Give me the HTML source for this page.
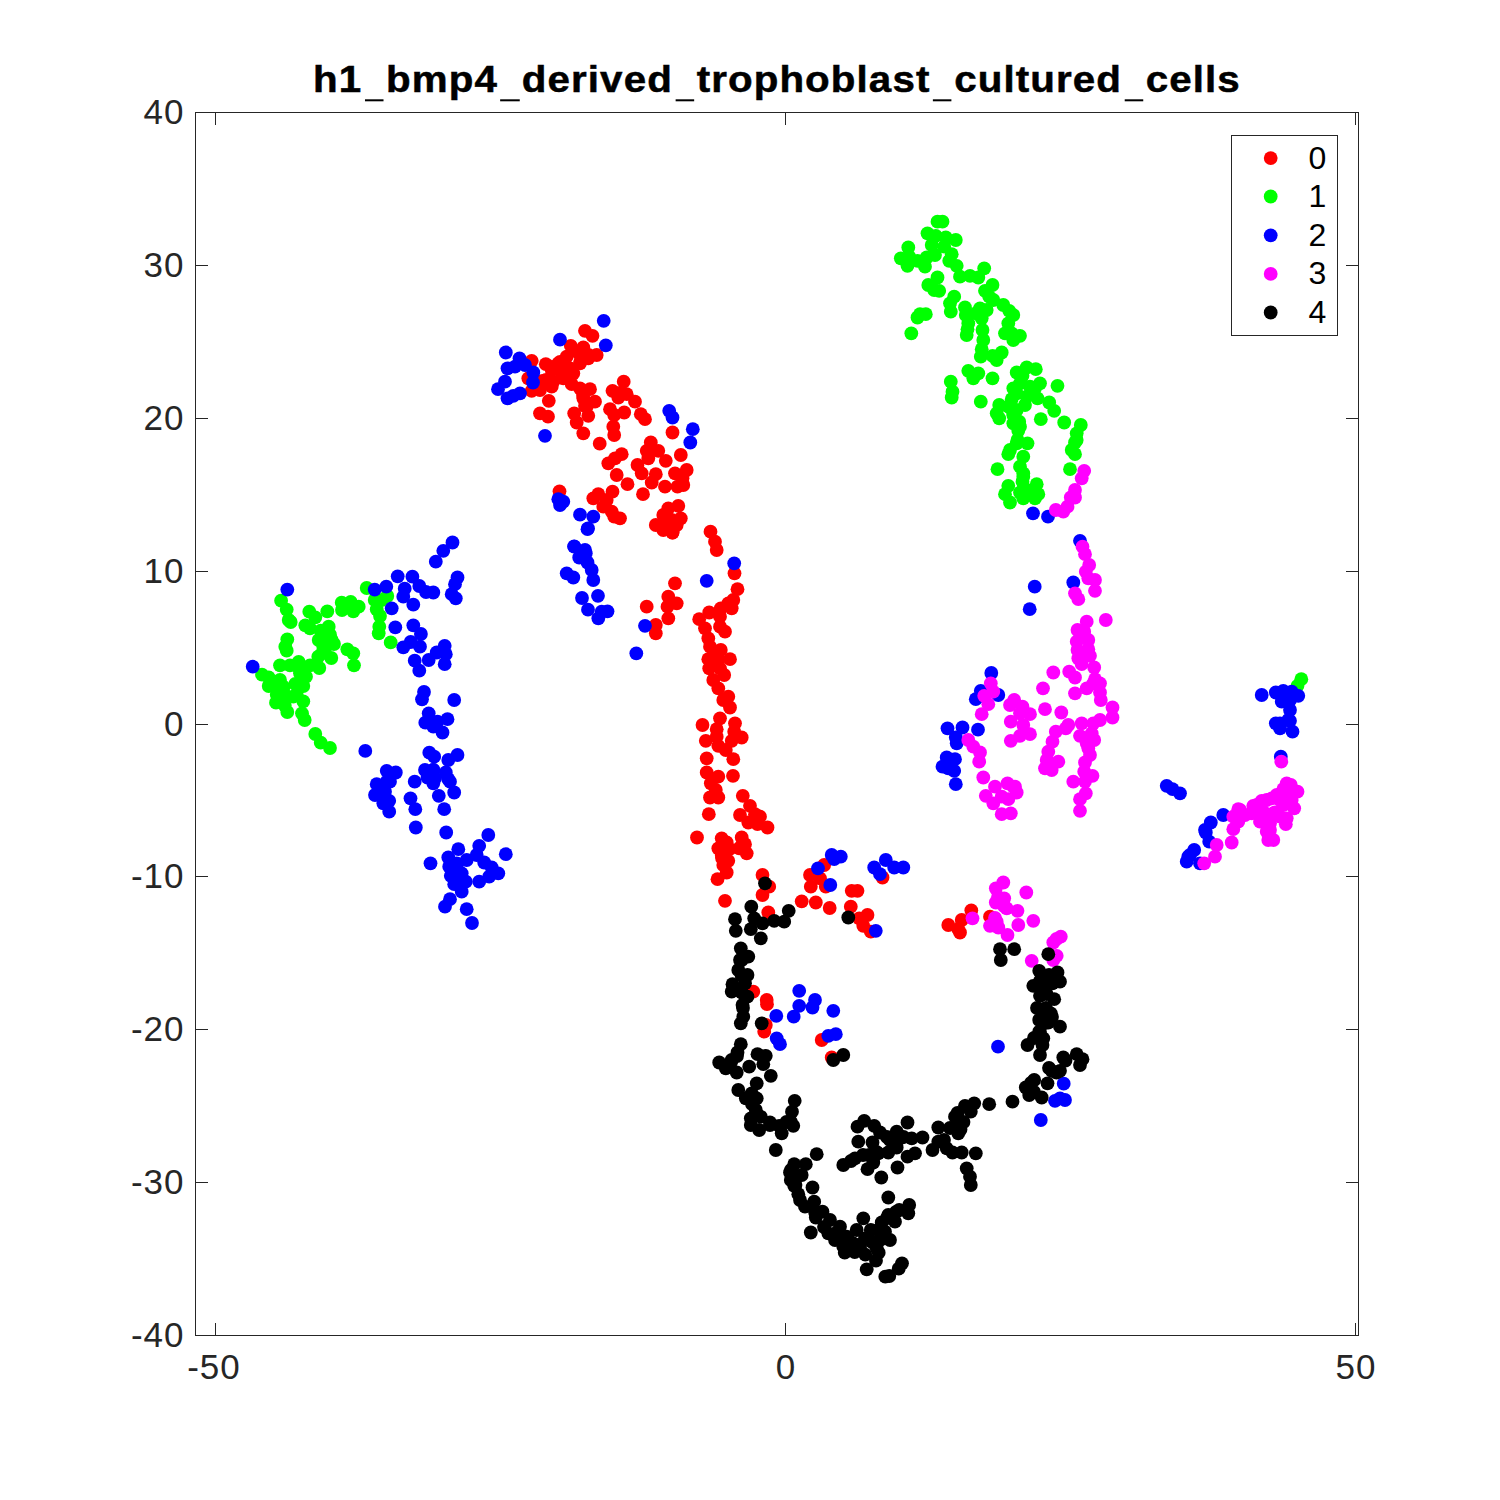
<!DOCTYPE html>
<html><head><meta charset="utf-8"><title>plot</title>
<style>
html,body{margin:0;padding:0;background:#fff;}
body{width:1500px;height:1500px;overflow:hidden;position:relative;font-family:"Liberation Sans",sans-serif;}
svg{position:absolute;left:0;top:0;}
.t{position:absolute;color:#262626;font-size:35px;line-height:36px;white-space:nowrap;letter-spacing:1px;}
.yl{text-align:right;width:100px;}
.xl{text-align:center;width:120px;}
.lg{position:absolute;color:#000;font-size:32px;line-height:32px;white-space:nowrap;}
#title{position:absolute;left:277px;width:1000px;top:58px;text-align:center;font-weight:bold;font-size:37px;line-height:44px;color:#000;white-space:nowrap;letter-spacing:1px;-webkit-text-stroke:0.5px #000;transform:scaleX(1.09);transform-origin:50% 50%;}
.u{display:inline-block;width:17.6px;height:0;border-bottom:2.7px solid #000;margin:0 2.1px;transform:translateY(9.3px);}
</style></head><body>

<svg width="1500" height="1500" viewBox="0 0 1500 1500">
<g fill="#ff0000">
<circle cx="646.7" cy="606.7" r="6.90"/>
<circle cx="655.8" cy="625.0" r="6.90"/>
<circle cx="655.8" cy="633.3" r="6.90"/>
<circle cx="668.3" cy="596.7" r="6.90"/>
<circle cx="675.0" cy="583.3" r="6.90"/>
<circle cx="667.5" cy="606.7" r="6.90"/>
<circle cx="676.7" cy="603.3" r="6.90"/>
<circle cx="668.3" cy="618.3" r="6.90"/>
<circle cx="672.5" cy="532.5" r="6.90"/>
<circle cx="663.3" cy="530.0" r="6.90"/>
<circle cx="531.7" cy="360.8" r="6.90"/>
<circle cx="585.0" cy="330.8" r="6.90"/>
<circle cx="592.5" cy="335.8" r="6.90"/>
<circle cx="570.8" cy="345.8" r="6.90"/>
<circle cx="583.3" cy="347.5" r="6.90"/>
<circle cx="576.7" cy="351.7" r="6.90"/>
<circle cx="596.7" cy="355.0" r="6.90"/>
<circle cx="588.3" cy="358.3" r="6.90"/>
<circle cx="566.7" cy="356.7" r="6.90"/>
<circle cx="558.3" cy="363.3" r="6.90"/>
<circle cx="545.8" cy="364.2" r="6.90"/>
<circle cx="580.0" cy="363.3" r="6.90"/>
<circle cx="570.0" cy="368.3" r="6.90"/>
<circle cx="551.7" cy="370.0" r="6.90"/>
<circle cx="573.3" cy="373.3" r="6.90"/>
<circle cx="561.7" cy="373.3" r="6.90"/>
<circle cx="542.5" cy="380.8" r="6.90"/>
<circle cx="553.3" cy="381.7" r="6.90"/>
<circle cx="563.3" cy="378.3" r="6.90"/>
<circle cx="528.3" cy="378.3" r="6.90"/>
<circle cx="551.7" cy="386.7" r="6.90"/>
<circle cx="531.7" cy="390.8" r="6.90"/>
<circle cx="540.0" cy="390.0" r="6.90"/>
<circle cx="571.7" cy="384.2" r="6.90"/>
<circle cx="580.0" cy="388.3" r="6.90"/>
<circle cx="590.0" cy="389.2" r="6.90"/>
<circle cx="548.8" cy="400.8" r="6.90"/>
<circle cx="583.3" cy="398.3" r="6.90"/>
<circle cx="595.0" cy="401.7" r="6.90"/>
<circle cx="586.7" cy="406.7" r="6.90"/>
<circle cx="540.0" cy="413.3" r="6.90"/>
<circle cx="548.0" cy="416.7" r="6.90"/>
<circle cx="574.2" cy="413.3" r="6.90"/>
<circle cx="588.3" cy="415.8" r="6.90"/>
<circle cx="576.7" cy="422.5" r="6.90"/>
<circle cx="583.3" cy="433.3" r="6.90"/>
<circle cx="623.7" cy="381.7" r="6.90"/>
<circle cx="612.5" cy="390.8" r="6.90"/>
<circle cx="618.3" cy="397.5" r="6.90"/>
<circle cx="626.7" cy="394.2" r="6.90"/>
<circle cx="635.0" cy="401.7" r="6.90"/>
<circle cx="610.0" cy="409.2" r="6.90"/>
<circle cx="624.2" cy="412.5" r="6.90"/>
<circle cx="614.2" cy="415.0" r="6.90"/>
<circle cx="640.8" cy="414.2" r="6.90"/>
<circle cx="645.0" cy="419.2" r="6.90"/>
<circle cx="613.3" cy="426.7" r="6.90"/>
<circle cx="614.2" cy="435.0" r="6.90"/>
<circle cx="599.7" cy="443.7" r="6.90"/>
<circle cx="672.5" cy="432.5" r="6.90"/>
<circle cx="650.8" cy="442.5" r="6.90"/>
<circle cx="646.7" cy="450.8" r="6.90"/>
<circle cx="658.3" cy="450.8" r="6.90"/>
<circle cx="680.8" cy="455.0" r="6.90"/>
<circle cx="621.7" cy="454.2" r="6.90"/>
<circle cx="615.0" cy="458.3" r="6.90"/>
<circle cx="608.3" cy="463.3" r="6.90"/>
<circle cx="648.3" cy="458.3" r="6.90"/>
<circle cx="665.8" cy="460.8" r="6.90"/>
<circle cx="637.5" cy="465.0" r="6.90"/>
<circle cx="616.7" cy="475.0" r="6.90"/>
<circle cx="641.7" cy="473.3" r="6.90"/>
<circle cx="655.8" cy="474.2" r="6.90"/>
<circle cx="686.7" cy="470.0" r="6.90"/>
<circle cx="675.0" cy="473.3" r="6.90"/>
<circle cx="682.5" cy="478.3" r="6.90"/>
<circle cx="651.7" cy="482.5" r="6.90"/>
<circle cx="627.5" cy="484.2" r="6.90"/>
<circle cx="665.0" cy="486.7" r="6.90"/>
<circle cx="683.3" cy="485.0" r="6.90"/>
<circle cx="677.5" cy="486.7" r="6.90"/>
<circle cx="643.0" cy="494.2" r="6.90"/>
<circle cx="559.5" cy="491.3" r="6.90"/>
<circle cx="612.5" cy="491.7" r="6.90"/>
<circle cx="598.3" cy="494.2" r="6.90"/>
<circle cx="593.3" cy="498.3" r="6.90"/>
<circle cx="606.7" cy="500.0" r="6.90"/>
<circle cx="603.3" cy="506.7" r="6.90"/>
<circle cx="611.7" cy="511.7" r="6.90"/>
<circle cx="620.0" cy="518.3" r="6.90"/>
<circle cx="614.2" cy="516.7" r="6.90"/>
<circle cx="678.3" cy="505.8" r="6.90"/>
<circle cx="668.3" cy="508.3" r="6.90"/>
<circle cx="663.3" cy="515.0" r="6.90"/>
<circle cx="680.8" cy="518.3" r="6.90"/>
<circle cx="671.7" cy="520.0" r="6.90"/>
<circle cx="655.8" cy="525.0" r="6.90"/>
<circle cx="665.0" cy="526.7" r="6.90"/>
<circle cx="676.7" cy="525.0" r="6.90"/>
<circle cx="672.5" cy="532.5" r="6.90"/>
<circle cx="710.5" cy="531.7" r="6.90"/>
<circle cx="715.0" cy="541.7" r="6.90"/>
<circle cx="716.7" cy="550.0" r="6.90"/>
<circle cx="734.5" cy="573.3" r="6.90"/>
<circle cx="737.5" cy="589.2" r="6.90"/>
<circle cx="733.3" cy="600.0" r="6.90"/>
<circle cx="728.3" cy="603.3" r="6.90"/>
<circle cx="731.7" cy="608.3" r="6.90"/>
<circle cx="720.8" cy="608.3" r="6.90"/>
<circle cx="709.2" cy="612.5" r="6.90"/>
<circle cx="699.2" cy="619.2" r="6.90"/>
<circle cx="720.0" cy="616.7" r="6.90"/>
<circle cx="705.0" cy="628.3" r="6.90"/>
<circle cx="720.0" cy="626.7" r="6.90"/>
<circle cx="725.0" cy="631.7" r="6.90"/>
<circle cx="708.3" cy="638.3" r="6.90"/>
<circle cx="710.0" cy="646.7" r="6.90"/>
<circle cx="720.8" cy="650.0" r="6.90"/>
<circle cx="716.7" cy="653.3" r="6.90"/>
<circle cx="708.3" cy="659.2" r="6.90"/>
<circle cx="718.3" cy="660.0" r="6.90"/>
<circle cx="730.0" cy="659.2" r="6.90"/>
<circle cx="709.2" cy="668.3" r="6.90"/>
<circle cx="720.0" cy="668.3" r="6.90"/>
<circle cx="724.2" cy="675.0" r="6.90"/>
<circle cx="713.3" cy="680.0" r="6.90"/>
<circle cx="718.3" cy="688.3" r="6.90"/>
<circle cx="728.3" cy="696.7" r="6.90"/>
<circle cx="723.3" cy="700.0" r="6.90"/>
<circle cx="730.0" cy="707.5" r="6.90"/>
<circle cx="720.0" cy="718.3" r="6.90"/>
<circle cx="735.0" cy="723.3" r="6.90"/>
<circle cx="702.5" cy="725.0" r="6.90"/>
<circle cx="716.7" cy="729.2" r="6.90"/>
<circle cx="734.2" cy="731.7" r="6.90"/>
<circle cx="716.7" cy="736.7" r="6.90"/>
<circle cx="741.7" cy="737.5" r="6.90"/>
<circle cx="705.8" cy="740.8" r="6.90"/>
<circle cx="731.7" cy="740.8" r="6.90"/>
<circle cx="718.3" cy="745.8" r="6.90"/>
<circle cx="725.8" cy="750.0" r="6.90"/>
<circle cx="706.7" cy="758.3" r="6.90"/>
<circle cx="733.3" cy="759.2" r="6.90"/>
<circle cx="706.7" cy="772.5" r="6.90"/>
<circle cx="718.3" cy="776.7" r="6.90"/>
<circle cx="733.0" cy="775.8" r="6.90"/>
<circle cx="710.8" cy="783.3" r="6.90"/>
<circle cx="715.8" cy="790.0" r="6.90"/>
<circle cx="710.0" cy="797.5" r="6.90"/>
<circle cx="718.3" cy="797.5" r="6.90"/>
<circle cx="708.8" cy="814.2" r="6.90"/>
<circle cx="742.8" cy="795.8" r="6.90"/>
<circle cx="750.0" cy="805.8" r="6.90"/>
<circle cx="740.0" cy="815.0" r="6.90"/>
<circle cx="755.0" cy="814.2" r="6.90"/>
<circle cx="760.0" cy="816.7" r="6.90"/>
<circle cx="748.3" cy="822.5" r="6.90"/>
<circle cx="757.5" cy="824.2" r="6.90"/>
<circle cx="767.5" cy="827.5" r="6.90"/>
<circle cx="697.0" cy="837.5" r="6.90"/>
<circle cx="721.7" cy="838.3" r="6.90"/>
<circle cx="726.7" cy="842.5" r="6.90"/>
<circle cx="741.7" cy="837.5" r="6.90"/>
<circle cx="745.0" cy="844.2" r="6.90"/>
<circle cx="718.3" cy="848.3" r="6.90"/>
<circle cx="739.2" cy="848.3" r="6.90"/>
<circle cx="721.7" cy="855.0" r="6.90"/>
<circle cx="746.7" cy="853.3" r="6.90"/>
<circle cx="728.3" cy="860.8" r="6.90"/>
<circle cx="723.3" cy="865.0" r="6.90"/>
<circle cx="726.7" cy="872.5" r="6.90"/>
<circle cx="717.5" cy="879.2" r="6.90"/>
<circle cx="762.5" cy="875.0" r="6.90"/>
<circle cx="769.2" cy="886.7" r="6.90"/>
<circle cx="762.5" cy="895.0" r="6.90"/>
<circle cx="725.0" cy="900.8" r="6.90"/>
<circle cx="768.3" cy="912.5" r="6.90"/>
<circle cx="801.7" cy="901.3" r="6.90"/>
<circle cx="815.8" cy="902.5" r="6.90"/>
<circle cx="829.7" cy="908.0" r="6.90"/>
<circle cx="824.2" cy="865.0" r="6.90"/>
<circle cx="810.0" cy="875.0" r="6.90"/>
<circle cx="820.0" cy="878.3" r="6.90"/>
<circle cx="810.8" cy="886.7" r="6.90"/>
<circle cx="825.8" cy="886.7" r="6.90"/>
<circle cx="851.7" cy="890.8" r="6.90"/>
<circle cx="857.5" cy="890.8" r="6.90"/>
<circle cx="850.8" cy="906.7" r="6.90"/>
<circle cx="867.5" cy="915.0" r="6.90"/>
<circle cx="859.2" cy="918.3" r="6.90"/>
<circle cx="863.3" cy="925.8" r="6.90"/>
<circle cx="870.8" cy="931.7" r="6.90"/>
<circle cx="882.5" cy="877.5" r="6.90"/>
<circle cx="753.3" cy="991.7" r="6.90"/>
<circle cx="766.7" cy="1000.0" r="6.90"/>
<circle cx="971.3" cy="910.3" r="6.90"/>
<circle cx="990.0" cy="916.7" r="6.90"/>
<circle cx="961.7" cy="920.0" r="6.90"/>
<circle cx="948.3" cy="925.0" r="6.90"/>
<circle cx="958.3" cy="929.2" r="6.90"/>
<circle cx="960.0" cy="932.5" r="6.90"/>
<circle cx="767.0" cy="1004.2" r="6.90"/>
<circle cx="765.8" cy="1025.0" r="6.90"/>
<circle cx="764.2" cy="1031.7" r="6.90"/>
<circle cx="821.7" cy="1040.0" r="6.90"/>
<circle cx="831.7" cy="1057.5" r="6.90"/>
<circle cx="551.0" cy="367.0" r="6.90"/>
<circle cx="588.5" cy="355.0" r="6.90"/>
<circle cx="580.5" cy="361.0" r="6.90"/>
<circle cx="583.0" cy="395.0" r="6.90"/>
<circle cx="585.0" cy="406.0" r="6.90"/>
<circle cx="620.0" cy="393.0" r="6.90"/>
<circle cx="546.0" cy="380.0" r="6.90"/>
<circle cx="560.0" cy="362.0" r="6.90"/>
<circle cx="722.0" cy="858.0" r="6.90"/>
<circle cx="729.5" cy="849.0" r="6.90"/>
<circle cx="741.5" cy="846.0" r="6.90"/>
</g>
<g fill="#00ff00">
<circle cx="281.1" cy="600.7" r="6.90"/>
<circle cx="286.7" cy="609.6" r="6.90"/>
<circle cx="288.7" cy="620.0" r="6.90"/>
<circle cx="290.7" cy="622.0" r="6.90"/>
<circle cx="309.3" cy="611.7" r="6.90"/>
<circle cx="305.3" cy="625.3" r="6.90"/>
<circle cx="315.3" cy="617.3" r="6.90"/>
<circle cx="327.3" cy="611.3" r="6.90"/>
<circle cx="328.7" cy="626.7" r="6.90"/>
<circle cx="320.7" cy="630.7" r="6.90"/>
<circle cx="341.7" cy="602.7" r="6.90"/>
<circle cx="342.0" cy="610.0" r="6.90"/>
<circle cx="350.7" cy="602.0" r="6.90"/>
<circle cx="353.3" cy="611.3" r="6.90"/>
<circle cx="358.7" cy="606.7" r="6.90"/>
<circle cx="366.7" cy="588.0" r="6.90"/>
<circle cx="374.7" cy="600.0" r="6.90"/>
<circle cx="387.3" cy="596.0" r="6.90"/>
<circle cx="376.7" cy="609.3" r="6.90"/>
<circle cx="380.0" cy="616.0" r="6.90"/>
<circle cx="379.3" cy="626.7" r="6.90"/>
<circle cx="378.7" cy="633.3" r="6.90"/>
<circle cx="390.7" cy="642.4" r="6.90"/>
<circle cx="287.3" cy="639.3" r="6.90"/>
<circle cx="285.3" cy="646.7" r="6.90"/>
<circle cx="286.7" cy="650.7" r="6.90"/>
<circle cx="318.7" cy="640.0" r="6.90"/>
<circle cx="323.3" cy="634.7" r="6.90"/>
<circle cx="330.0" cy="634.7" r="6.90"/>
<circle cx="334.0" cy="644.0" r="6.90"/>
<circle cx="326.0" cy="646.7" r="6.90"/>
<circle cx="322.0" cy="653.3" r="6.90"/>
<circle cx="331.3" cy="658.0" r="6.90"/>
<circle cx="347.3" cy="649.3" r="6.90"/>
<circle cx="353.3" cy="653.3" r="6.90"/>
<circle cx="354.0" cy="665.3" r="6.90"/>
<circle cx="280.0" cy="665.3" r="6.90"/>
<circle cx="290.0" cy="665.3" r="6.90"/>
<circle cx="298.7" cy="662.0" r="6.90"/>
<circle cx="299.3" cy="668.7" r="6.90"/>
<circle cx="310.0" cy="665.3" r="6.90"/>
<circle cx="319.3" cy="668.0" r="6.90"/>
<circle cx="306.0" cy="676.7" r="6.90"/>
<circle cx="262.0" cy="674.7" r="6.90"/>
<circle cx="268.7" cy="677.3" r="6.90"/>
<circle cx="268.7" cy="686.0" r="6.90"/>
<circle cx="276.7" cy="685.3" r="6.90"/>
<circle cx="283.3" cy="688.0" r="6.90"/>
<circle cx="295.3" cy="684.0" r="6.90"/>
<circle cx="303.3" cy="686.0" r="6.90"/>
<circle cx="276.7" cy="694.7" r="6.90"/>
<circle cx="286.0" cy="696.0" r="6.90"/>
<circle cx="296.7" cy="694.7" r="6.90"/>
<circle cx="276.0" cy="702.7" r="6.90"/>
<circle cx="284.7" cy="705.3" r="6.90"/>
<circle cx="303.3" cy="701.3" r="6.90"/>
<circle cx="287.3" cy="712.0" r="6.90"/>
<circle cx="302.0" cy="713.3" r="6.90"/>
<circle cx="304.7" cy="720.0" r="6.90"/>
<circle cx="315.3" cy="734.0" r="6.90"/>
<circle cx="320.7" cy="742.7" r="6.90"/>
<circle cx="330.0" cy="748.0" r="6.90"/>
<circle cx="937.5" cy="221.7" r="6.90"/>
<circle cx="942.5" cy="221.7" r="6.90"/>
<circle cx="927.5" cy="233.3" r="6.90"/>
<circle cx="935.8" cy="235.8" r="6.90"/>
<circle cx="945.8" cy="237.5" r="6.90"/>
<circle cx="955.8" cy="240.0" r="6.90"/>
<circle cx="908.3" cy="247.5" r="6.90"/>
<circle cx="944.2" cy="246.7" r="6.90"/>
<circle cx="900.8" cy="258.3" r="6.90"/>
<circle cx="917.5" cy="260.8" r="6.90"/>
<circle cx="935.0" cy="255.0" r="6.90"/>
<circle cx="951.7" cy="254.2" r="6.90"/>
<circle cx="907.5" cy="265.8" r="6.90"/>
<circle cx="925.0" cy="266.7" r="6.90"/>
<circle cx="956.7" cy="265.8" r="6.90"/>
<circle cx="984.2" cy="268.3" r="6.90"/>
<circle cx="937.5" cy="277.5" r="6.90"/>
<circle cx="960.0" cy="276.7" r="6.90"/>
<circle cx="970.0" cy="275.8" r="6.90"/>
<circle cx="978.3" cy="277.5" r="6.90"/>
<circle cx="928.3" cy="285.0" r="6.90"/>
<circle cx="992.5" cy="285.0" r="6.90"/>
<circle cx="939.2" cy="290.8" r="6.90"/>
<circle cx="985.0" cy="290.8" r="6.90"/>
<circle cx="954.2" cy="296.7" r="6.90"/>
<circle cx="950.0" cy="303.3" r="6.90"/>
<circle cx="993.3" cy="300.0" r="6.90"/>
<circle cx="1003.3" cy="305.0" r="6.90"/>
<circle cx="965.0" cy="307.5" r="6.90"/>
<circle cx="980.0" cy="308.3" r="6.90"/>
<circle cx="950.8" cy="311.7" r="6.90"/>
<circle cx="920.0" cy="314.2" r="6.90"/>
<circle cx="925.8" cy="314.2" r="6.90"/>
<circle cx="917.5" cy="317.5" r="6.90"/>
<circle cx="1013.3" cy="315.0" r="6.90"/>
<circle cx="981.7" cy="318.3" r="6.90"/>
<circle cx="968.3" cy="323.3" r="6.90"/>
<circle cx="1008.3" cy="323.3" r="6.90"/>
<circle cx="911.3" cy="333.3" r="6.90"/>
<circle cx="982.5" cy="330.0" r="6.90"/>
<circle cx="966.7" cy="335.0" r="6.90"/>
<circle cx="1005.0" cy="333.3" r="6.90"/>
<circle cx="1020.0" cy="335.8" r="6.90"/>
<circle cx="983.3" cy="340.0" r="6.90"/>
<circle cx="1013.3" cy="340.0" r="6.90"/>
<circle cx="981.7" cy="349.2" r="6.90"/>
<circle cx="1001.7" cy="352.5" r="6.90"/>
<circle cx="980.8" cy="356.7" r="6.90"/>
<circle cx="996.7" cy="360.0" r="6.90"/>
<circle cx="968.3" cy="370.8" r="6.90"/>
<circle cx="978.3" cy="373.3" r="6.90"/>
<circle cx="973.3" cy="378.3" r="6.90"/>
<circle cx="992.5" cy="378.3" r="6.90"/>
<circle cx="950.8" cy="381.7" r="6.90"/>
<circle cx="1026.7" cy="367.5" r="6.90"/>
<circle cx="1035.8" cy="369.2" r="6.90"/>
<circle cx="1016.7" cy="372.5" r="6.90"/>
<circle cx="1020.0" cy="383.3" r="6.90"/>
<circle cx="1040.0" cy="383.3" r="6.90"/>
<circle cx="1057.5" cy="385.8" r="6.90"/>
<circle cx="952.5" cy="391.7" r="6.90"/>
<circle cx="951.7" cy="397.5" r="6.90"/>
<circle cx="1033.3" cy="393.3" r="6.90"/>
<circle cx="1016.7" cy="393.3" r="6.90"/>
<circle cx="1011.7" cy="399.2" r="6.90"/>
<circle cx="1037.5" cy="398.3" r="6.90"/>
<circle cx="980.8" cy="401.7" r="6.90"/>
<circle cx="1049.2" cy="402.5" r="6.90"/>
<circle cx="999.2" cy="405.0" r="6.90"/>
<circle cx="1025.0" cy="405.0" r="6.90"/>
<circle cx="1054.2" cy="410.8" r="6.90"/>
<circle cx="1016.7" cy="410.0" r="6.90"/>
<circle cx="996.7" cy="413.3" r="6.90"/>
<circle cx="999.2" cy="418.3" r="6.90"/>
<circle cx="1040.8" cy="419.2" r="6.90"/>
<circle cx="1064.2" cy="422.5" r="6.90"/>
<circle cx="1080.8" cy="425.0" r="6.90"/>
<circle cx="1013.3" cy="423.3" r="6.90"/>
<circle cx="1018.3" cy="430.8" r="6.90"/>
<circle cx="1076.7" cy="433.3" r="6.90"/>
<circle cx="1017.5" cy="440.0" r="6.90"/>
<circle cx="1027.5" cy="443.3" r="6.90"/>
<circle cx="1075.0" cy="442.5" r="6.90"/>
<circle cx="1010.0" cy="450.0" r="6.90"/>
<circle cx="1071.7" cy="450.0" r="6.90"/>
<circle cx="1008.3" cy="454.2" r="6.90"/>
<circle cx="1023.3" cy="456.7" r="6.90"/>
<circle cx="1075.0" cy="454.2" r="6.90"/>
<circle cx="997.5" cy="469.2" r="6.90"/>
<circle cx="1020.0" cy="466.7" r="6.90"/>
<circle cx="1023.3" cy="473.3" r="6.90"/>
<circle cx="1070.0" cy="469.2" r="6.90"/>
<circle cx="1008.3" cy="485.8" r="6.90"/>
<circle cx="1022.5" cy="481.7" r="6.90"/>
<circle cx="1036.7" cy="484.2" r="6.90"/>
<circle cx="1005.0" cy="494.2" r="6.90"/>
<circle cx="1020.0" cy="492.5" r="6.90"/>
<circle cx="1030.0" cy="490.8" r="6.90"/>
<circle cx="1038.3" cy="494.2" r="6.90"/>
<circle cx="1010.0" cy="502.5" r="6.90"/>
<circle cx="1023.3" cy="498.3" r="6.90"/>
<circle cx="1035.0" cy="498.3" r="6.90"/>
<circle cx="1301.3" cy="679.2" r="6.90"/>
<circle cx="1297.5" cy="685.8" r="6.90"/>
<circle cx="931.7" cy="245.0" r="6.90"/>
<circle cx="926.7" cy="257.5" r="6.90"/>
<circle cx="909.2" cy="256.7" r="6.90"/>
<circle cx="949.2" cy="260.8" r="6.90"/>
<circle cx="934.2" cy="290.0" r="6.90"/>
<circle cx="965.8" cy="315.0" r="6.90"/>
<circle cx="967.5" cy="329.2" r="6.90"/>
<circle cx="975.8" cy="313.3" r="6.90"/>
<circle cx="986.7" cy="310.0" r="6.90"/>
<circle cx="989.2" cy="296.7" r="6.90"/>
<circle cx="1009.2" cy="310.8" r="6.90"/>
<circle cx="1011.7" cy="333.3" r="6.90"/>
<circle cx="992.5" cy="355.8" r="6.90"/>
<circle cx="1013.3" cy="388.3" r="6.90"/>
<circle cx="1022.5" cy="375.8" r="6.90"/>
<circle cx="1030.0" cy="386.7" r="6.90"/>
<circle cx="1035.0" cy="388.3" r="6.90"/>
<circle cx="1026.7" cy="396.7" r="6.90"/>
<circle cx="1008.3" cy="406.7" r="6.90"/>
<circle cx="1013.3" cy="415.0" r="6.90"/>
<circle cx="1019.2" cy="421.7" r="6.90"/>
<circle cx="310.0" cy="628.3" r="6.90"/>
<circle cx="331.7" cy="640.0" r="6.90"/>
<circle cx="318.3" cy="656.7" r="6.90"/>
<circle cx="300.0" cy="673.3" r="6.90"/>
<circle cx="283.3" cy="686.7" r="6.90"/>
<circle cx="293.3" cy="696.7" r="6.90"/>
<circle cx="381.7" cy="600.0" r="6.90"/>
<circle cx="323.3" cy="646.7" r="6.90"/>
<circle cx="280.0" cy="680.0" r="6.90"/>
<circle cx="1020.0" cy="426.7" r="6.90"/>
<circle cx="1016.7" cy="443.3" r="6.90"/>
<circle cx="1023.3" cy="476.7" r="6.90"/>
<circle cx="1026.7" cy="490.0" r="6.90"/>
<circle cx="1013.3" cy="413.3" r="6.90"/>
<circle cx="1076.7" cy="440.0" r="6.90"/>
</g>
<g fill="#0000ff">
<circle cx="287.3" cy="589.6" r="6.90"/>
<circle cx="252.7" cy="666.7" r="6.90"/>
<circle cx="365.3" cy="750.9" r="6.90"/>
<circle cx="374.7" cy="589.6" r="6.90"/>
<circle cx="386.3" cy="586.7" r="6.90"/>
<circle cx="397.7" cy="576.3" r="6.90"/>
<circle cx="412.4" cy="576.7" r="6.90"/>
<circle cx="419.3" cy="586.0" r="6.90"/>
<circle cx="404.7" cy="588.7" r="6.90"/>
<circle cx="403.3" cy="596.7" r="6.90"/>
<circle cx="413.3" cy="604.7" r="6.90"/>
<circle cx="426.0" cy="592.0" r="6.90"/>
<circle cx="391.7" cy="608.3" r="6.90"/>
<circle cx="395.3" cy="627.3" r="6.90"/>
<circle cx="413.3" cy="625.3" r="6.90"/>
<circle cx="420.9" cy="634.0" r="6.90"/>
<circle cx="410.7" cy="642.0" r="6.90"/>
<circle cx="403.3" cy="647.3" r="6.90"/>
<circle cx="420.0" cy="646.7" r="6.90"/>
<circle cx="414.7" cy="660.7" r="6.90"/>
<circle cx="419.3" cy="670.7" r="6.90"/>
<circle cx="428.7" cy="660.0" r="6.90"/>
<circle cx="424.0" cy="692.0" r="6.90"/>
<circle cx="422.0" cy="699.3" r="6.90"/>
<circle cx="428.7" cy="713.3" r="6.90"/>
<circle cx="425.3" cy="722.7" r="6.90"/>
<circle cx="429.3" cy="752.7" r="6.90"/>
<circle cx="452.5" cy="542.5" r="6.90"/>
<circle cx="443.3" cy="550.8" r="6.90"/>
<circle cx="435.8" cy="561.7" r="6.90"/>
<circle cx="457.5" cy="577.5" r="6.90"/>
<circle cx="455.0" cy="584.2" r="6.90"/>
<circle cx="433.3" cy="592.5" r="6.90"/>
<circle cx="451.7" cy="594.2" r="6.90"/>
<circle cx="455.8" cy="598.3" r="6.90"/>
<circle cx="444.7" cy="645.8" r="6.90"/>
<circle cx="436.7" cy="652.5" r="6.90"/>
<circle cx="445.8" cy="654.2" r="6.90"/>
<circle cx="444.7" cy="664.2" r="6.90"/>
<circle cx="454.2" cy="700.0" r="6.90"/>
<circle cx="447.5" cy="719.2" r="6.90"/>
<circle cx="437.5" cy="721.7" r="6.90"/>
<circle cx="442.5" cy="732.5" r="6.90"/>
<circle cx="433.3" cy="726.7" r="6.90"/>
<circle cx="457.5" cy="755.0" r="6.90"/>
<circle cx="448.3" cy="760.0" r="6.90"/>
<circle cx="434.2" cy="756.7" r="6.90"/>
<circle cx="445.8" cy="772.5" r="6.90"/>
<circle cx="433.3" cy="770.0" r="6.90"/>
<circle cx="435.0" cy="778.3" r="6.90"/>
<circle cx="448.3" cy="779.2" r="6.90"/>
<circle cx="587.5" cy="529.2" r="6.90"/>
<circle cx="574.2" cy="546.7" r="6.90"/>
<circle cx="585.8" cy="553.3" r="6.90"/>
<circle cx="579.2" cy="557.5" r="6.90"/>
<circle cx="587.5" cy="562.5" r="6.90"/>
<circle cx="591.7" cy="570.0" r="6.90"/>
<circle cx="566.7" cy="573.3" r="6.90"/>
<circle cx="573.3" cy="577.5" r="6.90"/>
<circle cx="593.3" cy="580.0" r="6.90"/>
<circle cx="598.0" cy="595.8" r="6.90"/>
<circle cx="582.0" cy="598.0" r="6.90"/>
<circle cx="588.0" cy="609.7" r="6.90"/>
<circle cx="607.5" cy="611.3" r="6.90"/>
<circle cx="601.7" cy="611.7" r="6.90"/>
<circle cx="598.3" cy="618.3" r="6.90"/>
<circle cx="645.0" cy="625.8" r="6.90"/>
<circle cx="636.3" cy="653.3" r="6.90"/>
<circle cx="386.7" cy="770.8" r="6.90"/>
<circle cx="395.8" cy="772.5" r="6.90"/>
<circle cx="390.0" cy="781.7" r="6.90"/>
<circle cx="376.7" cy="784.2" r="6.90"/>
<circle cx="375.0" cy="795.0" r="6.90"/>
<circle cx="385.0" cy="791.7" r="6.90"/>
<circle cx="389.2" cy="800.8" r="6.90"/>
<circle cx="383.3" cy="803.3" r="6.90"/>
<circle cx="389.2" cy="811.7" r="6.90"/>
<circle cx="414.7" cy="781.7" r="6.90"/>
<circle cx="410.5" cy="798.3" r="6.90"/>
<circle cx="415.3" cy="809.2" r="6.90"/>
<circle cx="415.8" cy="827.5" r="6.90"/>
<circle cx="425.0" cy="770.0" r="6.90"/>
<circle cx="427.5" cy="777.5" r="6.90"/>
<circle cx="430.5" cy="863.3" r="6.90"/>
<circle cx="433.3" cy="783.3" r="6.90"/>
<circle cx="450.0" cy="781.7" r="6.90"/>
<circle cx="454.2" cy="792.5" r="6.90"/>
<circle cx="438.8" cy="795.8" r="6.90"/>
<circle cx="444.2" cy="809.2" r="6.90"/>
<circle cx="446.2" cy="832.5" r="6.90"/>
<circle cx="488.3" cy="835.0" r="6.90"/>
<circle cx="479.2" cy="845.8" r="6.90"/>
<circle cx="458.3" cy="849.2" r="6.90"/>
<circle cx="505.8" cy="854.2" r="6.90"/>
<circle cx="448.3" cy="857.5" r="6.90"/>
<circle cx="476.7" cy="855.0" r="6.90"/>
<circle cx="466.7" cy="860.0" r="6.90"/>
<circle cx="449.2" cy="866.7" r="6.90"/>
<circle cx="484.2" cy="862.5" r="6.90"/>
<circle cx="491.7" cy="867.5" r="6.90"/>
<circle cx="450.8" cy="875.8" r="6.90"/>
<circle cx="461.7" cy="873.3" r="6.90"/>
<circle cx="498.3" cy="873.3" r="6.90"/>
<circle cx="489.2" cy="876.7" r="6.90"/>
<circle cx="479.2" cy="881.7" r="6.90"/>
<circle cx="454.2" cy="884.2" r="6.90"/>
<circle cx="465.8" cy="881.7" r="6.90"/>
<circle cx="461.7" cy="891.7" r="6.90"/>
<circle cx="450.0" cy="899.2" r="6.90"/>
<circle cx="445.0" cy="906.7" r="6.90"/>
<circle cx="466.7" cy="909.2" r="6.90"/>
<circle cx="472.0" cy="923.0" r="6.90"/>
<circle cx="456.7" cy="863.3" r="6.90"/>
<circle cx="458.3" cy="880.0" r="6.90"/>
<circle cx="603.7" cy="320.8" r="6.90"/>
<circle cx="560.0" cy="339.7" r="6.90"/>
<circle cx="605.8" cy="345.3" r="6.90"/>
<circle cx="505.8" cy="352.5" r="6.90"/>
<circle cx="519.5" cy="358.3" r="6.90"/>
<circle cx="507.5" cy="368.3" r="6.90"/>
<circle cx="515.0" cy="366.7" r="6.90"/>
<circle cx="525.0" cy="365.0" r="6.90"/>
<circle cx="533.3" cy="372.5" r="6.90"/>
<circle cx="533.0" cy="382.5" r="6.90"/>
<circle cx="505.0" cy="381.7" r="6.90"/>
<circle cx="498.0" cy="389.2" r="6.90"/>
<circle cx="520.0" cy="393.3" r="6.90"/>
<circle cx="513.3" cy="395.8" r="6.90"/>
<circle cx="507.5" cy="398.3" r="6.90"/>
<circle cx="545.0" cy="435.8" r="6.90"/>
<circle cx="669.2" cy="410.8" r="6.90"/>
<circle cx="672.5" cy="417.5" r="6.90"/>
<circle cx="692.8" cy="429.2" r="6.90"/>
<circle cx="690.3" cy="442.5" r="6.90"/>
<circle cx="558.3" cy="499.2" r="6.90"/>
<circle cx="563.3" cy="501.7" r="6.90"/>
<circle cx="560.0" cy="505.0" r="6.90"/>
<circle cx="580.0" cy="514.7" r="6.90"/>
<circle cx="593.3" cy="516.7" r="6.90"/>
<circle cx="588.0" cy="528.3" r="6.90"/>
<circle cx="574.2" cy="546.3" r="6.90"/>
<circle cx="585.0" cy="550.0" r="6.90"/>
<circle cx="734.2" cy="563.3" r="6.90"/>
<circle cx="706.7" cy="580.8" r="6.90"/>
<circle cx="831.7" cy="855.0" r="6.90"/>
<circle cx="840.8" cy="856.7" r="6.90"/>
<circle cx="834.2" cy="859.2" r="6.90"/>
<circle cx="818.0" cy="868.3" r="6.90"/>
<circle cx="830.3" cy="885.0" r="6.90"/>
<circle cx="885.8" cy="860.0" r="6.90"/>
<circle cx="874.2" cy="867.5" r="6.90"/>
<circle cx="894.2" cy="867.5" r="6.90"/>
<circle cx="903.3" cy="867.5" r="6.90"/>
<circle cx="880.0" cy="874.2" r="6.90"/>
<circle cx="875.8" cy="930.8" r="6.90"/>
<circle cx="799.2" cy="990.8" r="6.90"/>
<circle cx="815.0" cy="1000.0" r="6.90"/>
<circle cx="1033.0" cy="513.3" r="6.90"/>
<circle cx="1048.0" cy="516.7" r="6.90"/>
<circle cx="1080.0" cy="540.8" r="6.90"/>
<circle cx="1073.3" cy="582.5" r="6.90"/>
<circle cx="1034.7" cy="586.7" r="6.90"/>
<circle cx="1029.7" cy="609.2" r="6.90"/>
<circle cx="991.3" cy="673.0" r="6.90"/>
<circle cx="980.8" cy="690.8" r="6.90"/>
<circle cx="998.3" cy="695.0" r="6.90"/>
<circle cx="975.8" cy="699.2" r="6.90"/>
<circle cx="947.5" cy="728.3" r="6.90"/>
<circle cx="962.5" cy="727.5" r="6.90"/>
<circle cx="978.0" cy="729.7" r="6.90"/>
<circle cx="955.8" cy="737.5" r="6.90"/>
<circle cx="956.7" cy="743.3" r="6.90"/>
<circle cx="946.7" cy="757.5" r="6.90"/>
<circle cx="955.0" cy="759.2" r="6.90"/>
<circle cx="942.5" cy="766.7" r="6.90"/>
<circle cx="954.2" cy="770.8" r="6.90"/>
<circle cx="948.3" cy="768.3" r="6.90"/>
<circle cx="955.8" cy="784.2" r="6.90"/>
<circle cx="1261.7" cy="695.0" r="6.90"/>
<circle cx="1275.8" cy="692.5" r="6.90"/>
<circle cx="1283.3" cy="690.8" r="6.90"/>
<circle cx="1291.7" cy="691.7" r="6.90"/>
<circle cx="1298.3" cy="695.8" r="6.90"/>
<circle cx="1281.7" cy="701.7" r="6.90"/>
<circle cx="1290.0" cy="700.0" r="6.90"/>
<circle cx="1290.0" cy="710.0" r="6.90"/>
<circle cx="1275.8" cy="723.3" r="6.90"/>
<circle cx="1280.0" cy="728.3" r="6.90"/>
<circle cx="1290.0" cy="720.8" r="6.90"/>
<circle cx="1292.5" cy="731.7" r="6.90"/>
<circle cx="1280.8" cy="756.7" r="6.90"/>
<circle cx="1166.7" cy="785.8" r="6.90"/>
<circle cx="1172.5" cy="789.2" r="6.90"/>
<circle cx="1180.0" cy="793.3" r="6.90"/>
<circle cx="1223.3" cy="815.0" r="6.90"/>
<circle cx="1210.8" cy="822.5" r="6.90"/>
<circle cx="1205.8" cy="832.5" r="6.90"/>
<circle cx="1209.2" cy="841.7" r="6.90"/>
<circle cx="1194.2" cy="850.0" r="6.90"/>
<circle cx="1188.3" cy="856.7" r="6.90"/>
<circle cx="1186.7" cy="861.7" r="6.90"/>
<circle cx="1200.0" cy="863.3" r="6.90"/>
<circle cx="799.2" cy="1005.8" r="6.90"/>
<circle cx="812.5" cy="1007.5" r="6.90"/>
<circle cx="833.3" cy="1010.8" r="6.90"/>
<circle cx="776.3" cy="1015.8" r="6.90"/>
<circle cx="793.7" cy="1016.7" r="6.90"/>
<circle cx="776.7" cy="1038.3" r="6.90"/>
<circle cx="780.0" cy="1044.2" r="6.90"/>
<circle cx="835.8" cy="1034.2" r="6.90"/>
<circle cx="828.3" cy="1035.8" r="6.90"/>
<circle cx="998.0" cy="1046.7" r="6.90"/>
<circle cx="1063.7" cy="1083.7" r="6.90"/>
<circle cx="1055.0" cy="1100.8" r="6.90"/>
<circle cx="1060.0" cy="1098.3" r="6.90"/>
<circle cx="1065.0" cy="1100.0" r="6.90"/>
<circle cx="1040.8" cy="1120.0" r="6.90"/>
<circle cx="386.7" cy="781.7" r="6.90"/>
<circle cx="456.7" cy="866.7" r="6.90"/>
<circle cx="433.3" cy="770.0" r="6.90"/>
<circle cx="1285.0" cy="700.0" r="6.90"/>
<circle cx="1288.3" cy="720.0" r="6.90"/>
<circle cx="1280.0" cy="723.3" r="6.90"/>
<circle cx="1205.0" cy="830.0" r="6.90"/>
<circle cx="1190.0" cy="855.0" r="6.90"/>
</g>
<g fill="#ff00ff">
<circle cx="1084.2" cy="470.8" r="6.90"/>
<circle cx="1081.7" cy="478.3" r="6.90"/>
<circle cx="1075.0" cy="490.0" r="6.90"/>
<circle cx="1070.8" cy="497.5" r="6.90"/>
<circle cx="1075.0" cy="497.5" r="6.90"/>
<circle cx="1067.5" cy="506.7" r="6.90"/>
<circle cx="1055.8" cy="510.0" r="6.90"/>
<circle cx="1063.3" cy="511.7" r="6.90"/>
<circle cx="1082.5" cy="546.7" r="6.90"/>
<circle cx="1085.0" cy="554.2" r="6.90"/>
<circle cx="1089.2" cy="565.0" r="6.90"/>
<circle cx="1085.8" cy="571.7" r="6.90"/>
<circle cx="1095.0" cy="580.0" r="6.90"/>
<circle cx="1088.3" cy="578.3" r="6.90"/>
<circle cx="1095.0" cy="590.8" r="6.90"/>
<circle cx="1075.0" cy="593.3" r="6.90"/>
<circle cx="1078.3" cy="599.2" r="6.90"/>
<circle cx="1105.8" cy="620.0" r="6.90"/>
<circle cx="1086.7" cy="621.7" r="6.90"/>
<circle cx="1077.5" cy="630.0" r="6.90"/>
<circle cx="1084.2" cy="631.7" r="6.90"/>
<circle cx="1088.3" cy="640.0" r="6.90"/>
<circle cx="1076.7" cy="641.7" r="6.90"/>
<circle cx="1077.5" cy="650.0" r="6.90"/>
<circle cx="1088.3" cy="649.2" r="6.90"/>
<circle cx="1090.0" cy="655.8" r="6.90"/>
<circle cx="1078.3" cy="658.3" r="6.90"/>
<circle cx="1081.7" cy="664.2" r="6.90"/>
<circle cx="1094.2" cy="667.5" r="6.90"/>
<circle cx="1069.2" cy="671.7" r="6.90"/>
<circle cx="1053.3" cy="672.5" r="6.90"/>
<circle cx="1075.0" cy="677.5" r="6.90"/>
<circle cx="1095.0" cy="679.2" r="6.90"/>
<circle cx="1100.0" cy="683.3" r="6.90"/>
<circle cx="1043.0" cy="688.3" r="6.90"/>
<circle cx="1086.7" cy="688.3" r="6.90"/>
<circle cx="1075.0" cy="693.3" r="6.90"/>
<circle cx="1100.0" cy="692.5" r="6.90"/>
<circle cx="990.8" cy="683.3" r="6.90"/>
<circle cx="993.3" cy="691.7" r="6.90"/>
<circle cx="984.2" cy="695.8" r="6.90"/>
<circle cx="1014.2" cy="700.0" r="6.90"/>
<circle cx="988.3" cy="704.2" r="6.90"/>
<circle cx="981.7" cy="714.2" r="6.90"/>
<circle cx="1010.0" cy="705.0" r="6.90"/>
<circle cx="1022.5" cy="706.7" r="6.90"/>
<circle cx="1030.0" cy="714.2" r="6.90"/>
<circle cx="1045.0" cy="709.2" r="6.90"/>
<circle cx="1061.3" cy="712.5" r="6.90"/>
<circle cx="1112.5" cy="707.5" r="6.90"/>
<circle cx="1112.5" cy="717.5" r="6.90"/>
<circle cx="1100.8" cy="700.0" r="6.90"/>
<circle cx="1010.8" cy="721.7" r="6.90"/>
<circle cx="1023.3" cy="725.0" r="6.90"/>
<circle cx="1081.7" cy="723.3" r="6.90"/>
<circle cx="1100.0" cy="720.0" r="6.90"/>
<circle cx="1065.8" cy="728.3" r="6.90"/>
<circle cx="1055.8" cy="731.7" r="6.90"/>
<circle cx="1030.0" cy="734.2" r="6.90"/>
<circle cx="1020.0" cy="735.8" r="6.90"/>
<circle cx="1010.8" cy="740.8" r="6.90"/>
<circle cx="1080.0" cy="735.8" r="6.90"/>
<circle cx="1091.7" cy="733.3" r="6.90"/>
<circle cx="1094.2" cy="740.0" r="6.90"/>
<circle cx="968.3" cy="740.0" r="6.90"/>
<circle cx="973.3" cy="746.7" r="6.90"/>
<circle cx="980.0" cy="752.5" r="6.90"/>
<circle cx="979.2" cy="761.7" r="6.90"/>
<circle cx="1052.5" cy="741.7" r="6.90"/>
<circle cx="1048.3" cy="751.7" r="6.90"/>
<circle cx="1088.3" cy="748.3" r="6.90"/>
<circle cx="1090.0" cy="755.0" r="6.90"/>
<circle cx="1046.7" cy="760.0" r="6.90"/>
<circle cx="1058.3" cy="761.7" r="6.90"/>
<circle cx="1085.0" cy="762.5" r="6.90"/>
<circle cx="1045.0" cy="768.3" r="6.90"/>
<circle cx="1051.7" cy="770.0" r="6.90"/>
<circle cx="1084.2" cy="771.7" r="6.90"/>
<circle cx="1092.5" cy="775.8" r="6.90"/>
<circle cx="983.3" cy="777.5" r="6.90"/>
<circle cx="1073.3" cy="781.7" r="6.90"/>
<circle cx="1085.0" cy="781.7" r="6.90"/>
<circle cx="1007.5" cy="783.3" r="6.90"/>
<circle cx="995.0" cy="786.7" r="6.90"/>
<circle cx="1015.0" cy="786.7" r="6.90"/>
<circle cx="1016.7" cy="792.5" r="6.90"/>
<circle cx="985.8" cy="795.8" r="6.90"/>
<circle cx="1085.8" cy="793.3" r="6.90"/>
<circle cx="1080.0" cy="799.2" r="6.90"/>
<circle cx="1008.3" cy="799.2" r="6.90"/>
<circle cx="993.3" cy="803.3" r="6.90"/>
<circle cx="1080.0" cy="810.8" r="6.90"/>
<circle cx="1001.7" cy="814.2" r="6.90"/>
<circle cx="1010.8" cy="813.3" r="6.90"/>
<circle cx="1003.3" cy="882.5" r="6.90"/>
<circle cx="995.8" cy="888.3" r="6.90"/>
<circle cx="1026.3" cy="892.5" r="6.90"/>
<circle cx="1004.2" cy="898.3" r="6.90"/>
<circle cx="995.8" cy="902.5" r="6.90"/>
<circle cx="1006.7" cy="908.3" r="6.90"/>
<circle cx="1017.5" cy="910.8" r="6.90"/>
<circle cx="972.5" cy="918.3" r="6.90"/>
<circle cx="996.7" cy="921.7" r="6.90"/>
<circle cx="990.0" cy="925.8" r="6.90"/>
<circle cx="1033.3" cy="920.8" r="6.90"/>
<circle cx="1018.3" cy="925.0" r="6.90"/>
<circle cx="998.3" cy="927.5" r="6.90"/>
<circle cx="1007.5" cy="935.0" r="6.90"/>
<circle cx="1060.8" cy="936.7" r="6.90"/>
<circle cx="1053.3" cy="942.5" r="6.90"/>
<circle cx="1281.3" cy="761.7" r="6.90"/>
<circle cx="1290.8" cy="785.0" r="6.90"/>
<circle cx="1283.3" cy="789.2" r="6.90"/>
<circle cx="1297.5" cy="791.7" r="6.90"/>
<circle cx="1271.7" cy="798.3" r="6.90"/>
<circle cx="1261.7" cy="800.8" r="6.90"/>
<circle cx="1280.0" cy="800.0" r="6.90"/>
<circle cx="1290.0" cy="800.8" r="6.90"/>
<circle cx="1253.3" cy="805.8" r="6.90"/>
<circle cx="1238.3" cy="809.2" r="6.90"/>
<circle cx="1294.2" cy="808.3" r="6.90"/>
<circle cx="1245.0" cy="815.0" r="6.90"/>
<circle cx="1263.3" cy="811.7" r="6.90"/>
<circle cx="1275.0" cy="812.5" r="6.90"/>
<circle cx="1233.3" cy="816.7" r="6.90"/>
<circle cx="1286.7" cy="818.3" r="6.90"/>
<circle cx="1238.3" cy="821.7" r="6.90"/>
<circle cx="1260.0" cy="821.7" r="6.90"/>
<circle cx="1270.0" cy="823.3" r="6.90"/>
<circle cx="1285.8" cy="824.2" r="6.90"/>
<circle cx="1233.3" cy="829.2" r="6.90"/>
<circle cx="1266.7" cy="831.7" r="6.90"/>
<circle cx="1268.3" cy="840.0" r="6.90"/>
<circle cx="1273.3" cy="840.0" r="6.90"/>
<circle cx="1231.7" cy="842.5" r="6.90"/>
<circle cx="1216.7" cy="845.0" r="6.90"/>
<circle cx="1215.0" cy="856.7" r="6.90"/>
<circle cx="1204.2" cy="863.3" r="6.90"/>
<circle cx="1031.7" cy="960.8" r="6.90"/>
<circle cx="1056.7" cy="955.8" r="6.90"/>
<circle cx="1053.3" cy="960.0" r="6.90"/>
<circle cx="1256.7" cy="805.0" r="6.90"/>
<circle cx="1266.7" cy="800.0" r="6.90"/>
<circle cx="1276.7" cy="795.0" r="6.90"/>
<circle cx="1283.3" cy="805.0" r="6.90"/>
<circle cx="1273.3" cy="813.3" r="6.90"/>
<circle cx="1263.3" cy="816.7" r="6.90"/>
<circle cx="1290.0" cy="793.3" r="6.90"/>
<circle cx="1291.7" cy="800.0" r="6.90"/>
<circle cx="1251.7" cy="813.3" r="6.90"/>
<circle cx="1280.0" cy="816.7" r="6.90"/>
<circle cx="1240.0" cy="810.0" r="6.90"/>
<circle cx="1270.0" cy="830.0" r="6.90"/>
<circle cx="1286.7" cy="783.3" r="6.90"/>
<circle cx="1068.3" cy="725.0" r="6.90"/>
<circle cx="1093.3" cy="723.3" r="6.90"/>
<circle cx="1086.7" cy="743.3" r="6.90"/>
<circle cx="1093.3" cy="683.3" r="6.90"/>
<circle cx="1001.7" cy="796.7" r="6.90"/>
<circle cx="1013.3" cy="786.7" r="6.90"/>
<circle cx="1020.0" cy="713.3" r="6.90"/>
<circle cx="1080.0" cy="633.3" r="6.90"/>
<circle cx="1085.0" cy="653.3" r="6.90"/>
<circle cx="998.0" cy="897.0" r="6.90"/>
<circle cx="1004.0" cy="906.0" r="6.90"/>
<circle cx="995.0" cy="918.0" r="6.90"/>
<circle cx="1056.5" cy="939.0" r="6.90"/>
</g>
<g fill="#000000">
<circle cx="765.0" cy="883.3" r="6.90"/>
<circle cx="751.3" cy="906.7" r="6.90"/>
<circle cx="788.7" cy="910.8" r="6.90"/>
<circle cx="735.0" cy="919.2" r="6.90"/>
<circle cx="754.2" cy="918.3" r="6.90"/>
<circle cx="774.2" cy="920.8" r="6.90"/>
<circle cx="784.2" cy="921.7" r="6.90"/>
<circle cx="762.5" cy="923.3" r="6.90"/>
<circle cx="750.8" cy="929.2" r="6.90"/>
<circle cx="735.8" cy="930.8" r="6.90"/>
<circle cx="760.8" cy="938.3" r="6.90"/>
<circle cx="848.3" cy="917.5" r="6.90"/>
<circle cx="740.8" cy="948.3" r="6.90"/>
<circle cx="748.3" cy="956.7" r="6.90"/>
<circle cx="741.7" cy="960.0" r="6.90"/>
<circle cx="738.3" cy="970.0" r="6.90"/>
<circle cx="747.5" cy="975.0" r="6.90"/>
<circle cx="732.5" cy="984.2" r="6.90"/>
<circle cx="745.0" cy="983.3" r="6.90"/>
<circle cx="731.7" cy="991.7" r="6.90"/>
<circle cx="741.7" cy="992.5" r="6.90"/>
<circle cx="747.5" cy="996.7" r="6.90"/>
<circle cx="1000.0" cy="949.2" r="6.90"/>
<circle cx="1014.2" cy="949.2" r="6.90"/>
<circle cx="742.5" cy="1005.0" r="6.90"/>
<circle cx="743.3" cy="1016.7" r="6.90"/>
<circle cx="740.8" cy="1023.3" r="6.90"/>
<circle cx="761.7" cy="1023.3" r="6.90"/>
<circle cx="740.8" cy="1044.2" r="6.90"/>
<circle cx="737.5" cy="1052.5" r="6.90"/>
<circle cx="757.5" cy="1054.2" r="6.90"/>
<circle cx="765.8" cy="1055.8" r="6.90"/>
<circle cx="731.7" cy="1060.0" r="6.90"/>
<circle cx="719.2" cy="1062.5" r="6.90"/>
<circle cx="749.2" cy="1066.7" r="6.90"/>
<circle cx="763.3" cy="1064.2" r="6.90"/>
<circle cx="725.8" cy="1068.3" r="6.90"/>
<circle cx="736.7" cy="1072.5" r="6.90"/>
<circle cx="770.8" cy="1075.8" r="6.90"/>
<circle cx="756.7" cy="1083.3" r="6.90"/>
<circle cx="738.3" cy="1090.0" r="6.90"/>
<circle cx="751.7" cy="1093.3" r="6.90"/>
<circle cx="745.8" cy="1098.3" r="6.90"/>
<circle cx="756.7" cy="1098.3" r="6.90"/>
<circle cx="794.7" cy="1100.8" r="6.90"/>
<circle cx="755.8" cy="1110.0" r="6.90"/>
<circle cx="792.0" cy="1111.7" r="6.90"/>
<circle cx="750.8" cy="1118.3" r="6.90"/>
<circle cx="760.8" cy="1116.7" r="6.90"/>
<circle cx="770.0" cy="1122.5" r="6.90"/>
<circle cx="790.8" cy="1121.7" r="6.90"/>
<circle cx="750.8" cy="1125.0" r="6.90"/>
<circle cx="779.2" cy="1125.8" r="6.90"/>
<circle cx="793.3" cy="1125.8" r="6.90"/>
<circle cx="759.2" cy="1130.0" r="6.90"/>
<circle cx="781.7" cy="1133.3" r="6.90"/>
<circle cx="775.8" cy="1150.0" r="6.90"/>
<circle cx="816.7" cy="1154.2" r="6.90"/>
<circle cx="794.2" cy="1164.2" r="6.90"/>
<circle cx="805.8" cy="1164.2" r="6.90"/>
<circle cx="790.0" cy="1172.5" r="6.90"/>
<circle cx="801.7" cy="1175.0" r="6.90"/>
<circle cx="790.8" cy="1180.0" r="6.90"/>
<circle cx="794.2" cy="1185.8" r="6.90"/>
<circle cx="812.5" cy="1187.5" r="6.90"/>
<circle cx="798.3" cy="1194.2" r="6.90"/>
<circle cx="814.2" cy="1201.7" r="6.90"/>
<circle cx="805.0" cy="1206.7" r="6.90"/>
<circle cx="822.5" cy="1211.7" r="6.90"/>
<circle cx="815.8" cy="1217.5" r="6.90"/>
<circle cx="830.0" cy="1220.0" r="6.90"/>
<circle cx="810.8" cy="1232.5" r="6.90"/>
<circle cx="840.0" cy="1226.7" r="6.90"/>
<circle cx="828.3" cy="1233.3" r="6.90"/>
<circle cx="835.0" cy="1240.0" r="6.90"/>
<circle cx="846.7" cy="1236.7" r="6.90"/>
<circle cx="856.7" cy="1230.0" r="6.90"/>
<circle cx="863.3" cy="1218.3" r="6.90"/>
<circle cx="870.8" cy="1230.0" r="6.90"/>
<circle cx="865.0" cy="1238.3" r="6.90"/>
<circle cx="853.3" cy="1243.3" r="6.90"/>
<circle cx="843.3" cy="1246.7" r="6.90"/>
<circle cx="860.0" cy="1248.3" r="6.90"/>
<circle cx="881.7" cy="1222.5" r="6.90"/>
<circle cx="888.3" cy="1215.0" r="6.90"/>
<circle cx="899.2" cy="1210.0" r="6.90"/>
<circle cx="909.2" cy="1205.0" r="6.90"/>
<circle cx="908.3" cy="1213.3" r="6.90"/>
<circle cx="895.0" cy="1221.7" r="6.90"/>
<circle cx="885.0" cy="1231.7" r="6.90"/>
<circle cx="880.0" cy="1240.0" r="6.90"/>
<circle cx="890.0" cy="1240.0" r="6.90"/>
<circle cx="876.7" cy="1248.3" r="6.90"/>
<circle cx="888.3" cy="1197.5" r="6.90"/>
<circle cx="843.3" cy="1055.0" r="6.90"/>
<circle cx="833.3" cy="1060.0" r="6.90"/>
<circle cx="864.2" cy="1120.8" r="6.90"/>
<circle cx="857.5" cy="1126.7" r="6.90"/>
<circle cx="874.2" cy="1125.8" r="6.90"/>
<circle cx="880.0" cy="1132.5" r="6.90"/>
<circle cx="907.5" cy="1122.5" r="6.90"/>
<circle cx="896.7" cy="1131.7" r="6.90"/>
<circle cx="938.3" cy="1127.5" r="6.90"/>
<circle cx="858.3" cy="1141.7" r="6.90"/>
<circle cx="872.5" cy="1142.5" r="6.90"/>
<circle cx="890.0" cy="1140.0" r="6.90"/>
<circle cx="900.0" cy="1138.3" r="6.90"/>
<circle cx="911.7" cy="1138.3" r="6.90"/>
<circle cx="922.5" cy="1137.5" r="6.90"/>
<circle cx="938.3" cy="1141.7" r="6.90"/>
<circle cx="896.7" cy="1147.5" r="6.90"/>
<circle cx="869.2" cy="1155.0" r="6.90"/>
<circle cx="878.3" cy="1153.3" r="6.90"/>
<circle cx="888.3" cy="1152.5" r="6.90"/>
<circle cx="855.0" cy="1158.3" r="6.90"/>
<circle cx="907.5" cy="1156.7" r="6.90"/>
<circle cx="915.0" cy="1153.3" r="6.90"/>
<circle cx="932.5" cy="1150.0" r="6.90"/>
<circle cx="843.3" cy="1165.0" r="6.90"/>
<circle cx="873.3" cy="1162.5" r="6.90"/>
<circle cx="867.5" cy="1169.2" r="6.90"/>
<circle cx="897.5" cy="1167.5" r="6.90"/>
<circle cx="881.3" cy="1177.5" r="6.90"/>
<circle cx="1000.8" cy="960.0" r="6.90"/>
<circle cx="1048.3" cy="954.2" r="6.90"/>
<circle cx="1039.2" cy="970.8" r="6.90"/>
<circle cx="1057.5" cy="972.5" r="6.90"/>
<circle cx="1046.7" cy="977.5" r="6.90"/>
<circle cx="1060.0" cy="981.7" r="6.90"/>
<circle cx="1033.3" cy="985.8" r="6.90"/>
<circle cx="1052.5" cy="983.3" r="6.90"/>
<circle cx="1040.0" cy="995.8" r="6.90"/>
<circle cx="1046.7" cy="994.2" r="6.90"/>
<circle cx="1054.2" cy="999.2" r="6.90"/>
<circle cx="1044.2" cy="1011.7" r="6.90"/>
<circle cx="1050.8" cy="1013.3" r="6.90"/>
<circle cx="1039.2" cy="1020.0" r="6.90"/>
<circle cx="1048.3" cy="1022.5" r="6.90"/>
<circle cx="1060.0" cy="1026.7" r="6.90"/>
<circle cx="1039.2" cy="1031.7" r="6.90"/>
<circle cx="1043.3" cy="1038.3" r="6.90"/>
<circle cx="1027.5" cy="1045.0" r="6.90"/>
<circle cx="1042.5" cy="1045.0" r="6.90"/>
<circle cx="1040.0" cy="1055.0" r="6.90"/>
<circle cx="1076.7" cy="1054.2" r="6.90"/>
<circle cx="1063.3" cy="1057.5" r="6.90"/>
<circle cx="1082.5" cy="1059.2" r="6.90"/>
<circle cx="1080.0" cy="1065.0" r="6.90"/>
<circle cx="1051.7" cy="1070.8" r="6.90"/>
<circle cx="1060.0" cy="1070.8" r="6.90"/>
<circle cx="1034.2" cy="1080.0" r="6.90"/>
<circle cx="1047.5" cy="1083.3" r="6.90"/>
<circle cx="1025.8" cy="1087.5" r="6.90"/>
<circle cx="1029.2" cy="1095.0" r="6.90"/>
<circle cx="1041.7" cy="1097.5" r="6.90"/>
<circle cx="1012.5" cy="1101.7" r="6.90"/>
<circle cx="989.2" cy="1104.2" r="6.90"/>
<circle cx="974.2" cy="1103.3" r="6.90"/>
<circle cx="965.0" cy="1105.8" r="6.90"/>
<circle cx="970.8" cy="1111.7" r="6.90"/>
<circle cx="955.0" cy="1116.7" r="6.90"/>
<circle cx="960.0" cy="1123.3" r="6.90"/>
<circle cx="958.3" cy="1133.3" r="6.90"/>
<circle cx="952.5" cy="1152.5" r="6.90"/>
<circle cx="961.7" cy="1152.5" r="6.90"/>
<circle cx="975.8" cy="1153.3" r="6.90"/>
<circle cx="966.7" cy="1168.3" r="6.90"/>
<circle cx="970.0" cy="1176.7" r="6.90"/>
<circle cx="970.8" cy="1185.0" r="6.90"/>
<circle cx="946.7" cy="1148.3" r="6.90"/>
<circle cx="844.7" cy="1252.7" r="6.90"/>
<circle cx="854.7" cy="1252.0" r="6.90"/>
<circle cx="865.3" cy="1254.7" r="6.90"/>
<circle cx="878.7" cy="1252.7" r="6.90"/>
<circle cx="876.0" cy="1260.7" r="6.90"/>
<circle cx="866.7" cy="1269.3" r="6.90"/>
<circle cx="902.0" cy="1263.3" r="6.90"/>
<circle cx="898.7" cy="1268.7" r="6.90"/>
<circle cx="889.3" cy="1276.0" r="6.90"/>
<circle cx="885.3" cy="1276.7" r="6.90"/>
<circle cx="1040.0" cy="981.0" r="6.90"/>
<circle cx="1044.5" cy="990.0" r="6.90"/>
<circle cx="1046.0" cy="1008.0" r="6.90"/>
<circle cx="1040.0" cy="1032.0" r="6.90"/>
<circle cx="1044.5" cy="1023.0" r="6.90"/>
<circle cx="1037.0" cy="1008.0" r="6.90"/>
<circle cx="1052.0" cy="1017.0" r="6.90"/>
<circle cx="1034.0" cy="1038.0" r="6.90"/>
<circle cx="1049.0" cy="975.0" r="6.90"/>
<circle cx="1065.5" cy="1060.5" r="6.90"/>
<circle cx="1056.5" cy="1072.5" r="6.90"/>
<circle cx="1049.0" cy="1068.0" r="6.90"/>
<circle cx="1031.0" cy="1083.0" r="6.90"/>
<circle cx="1034.0" cy="1092.0" r="6.90"/>
<circle cx="957.5" cy="1113.0" r="6.90"/>
<circle cx="963.5" cy="1122.0" r="6.90"/>
<circle cx="960.5" cy="1129.5" r="6.90"/>
<circle cx="950.0" cy="1128.0" r="6.90"/>
<circle cx="944.0" cy="1140.0" r="6.90"/>
<circle cx="887.0" cy="1137.0" r="6.90"/>
<circle cx="896.0" cy="1143.0" r="6.90"/>
<circle cx="876.5" cy="1152.0" r="6.90"/>
<circle cx="903.5" cy="1137.0" r="6.90"/>
<circle cx="851.0" cy="1161.0" r="6.90"/>
<circle cx="863.0" cy="1155.0" r="6.90"/>
<circle cx="791.0" cy="1170.0" r="6.90"/>
<circle cx="795.5" cy="1185.0" r="6.90"/>
<circle cx="800.0" cy="1200.0" r="6.90"/>
<circle cx="815.0" cy="1212.0" r="6.90"/>
<circle cx="824.0" cy="1227.0" r="6.90"/>
<circle cx="836.0" cy="1233.0" r="6.90"/>
<circle cx="848.0" cy="1239.0" r="6.90"/>
<circle cx="860.0" cy="1245.0" r="6.90"/>
<circle cx="872.0" cy="1242.0" r="6.90"/>
<circle cx="878.0" cy="1230.0" r="6.90"/>
<circle cx="887.0" cy="1218.0" r="6.90"/>
<circle cx="896.0" cy="1212.0" r="6.90"/>
<circle cx="740.0" cy="960.0" r="6.90"/>
<circle cx="741.5" cy="975.0" r="6.90"/>
<circle cx="738.5" cy="990.0" r="6.90"/>
<circle cx="743.0" cy="1008.0" r="6.90"/>
<circle cx="752.0" cy="1104.0" r="6.90"/>
<circle cx="755.0" cy="1116.0" r="6.90"/>
<circle cx="770.0" cy="1125.0" r="6.90"/>
<circle cx="786.5" cy="1122.0" r="6.90"/>
<circle cx="731.0" cy="1062.0" r="6.90"/>
<circle cx="737.0" cy="1056.0" r="6.90"/>
</g>
<g stroke="#262626" stroke-width="1" fill="none" shape-rendering="crispEdges">
<rect x="195.5" y="112.5" width="1163.0" height="1223.0"/>
<path d="M215.5 1335.5V1323.0M215.5 112.5V125.0"/>
<path d="M785.5 1335.5V1323.0M785.5 112.5V125.0"/>
<path d="M1355.5 1335.5V1323.0M1355.5 112.5V125.0"/>
<path d="M195.5 1335.5H208.0M1358.5 1335.5H1346.0"/>
<path d="M195.5 1182.5H208.0M1358.5 1182.5H1346.0"/>
<path d="M195.5 1029.5H208.0M1358.5 1029.5H1346.0"/>
<path d="M195.5 876.5H208.0M1358.5 876.5H1346.0"/>
<path d="M195.5 724.5H208.0M1358.5 724.5H1346.0"/>
<path d="M195.5 571.5H208.0M1358.5 571.5H1346.0"/>
<path d="M195.5 418.5H208.0M1358.5 418.5H1346.0"/>
<path d="M195.5 265.5H208.0M1358.5 265.5H1346.0"/>
<path d="M195.5 112.5H208.0M1358.5 112.5H1346.0"/>
</g>
<rect x="1231.5" y="135.5" width="106" height="200" fill="#fff" stroke="#262626" stroke-width="1.2" shape-rendering="crispEdges"/>
<circle cx="1270.7" cy="158.1" r="6.9" fill="#ff0000"/>
<circle cx="1270.7" cy="196.5" r="6.9" fill="#00ff00"/>
<circle cx="1270.7" cy="235.3" r="6.9" fill="#0000ff"/>
<circle cx="1270.7" cy="273.9" r="6.9" fill="#ff00ff"/>
<circle cx="1270.7" cy="312.5" r="6.9" fill="#000000"/>
</svg>
<div id="title">h1<span class="u"></span>bmp4<span class="u"></span>derived<span class="u"></span>trophoblast<span class="u"></span>cultured<span class="u"></span>cells</div>
<div class="t yl" style="left:84.5px;top:1317.0px">-40</div>
<div class="t yl" style="left:84.5px;top:1164.1px">-30</div>
<div class="t yl" style="left:84.5px;top:1011.2px">-20</div>
<div class="t yl" style="left:84.5px;top:858.4px">-10</div>
<div class="t yl" style="left:84.5px;top:705.5px">0</div>
<div class="t yl" style="left:84.5px;top:552.6px">10</div>
<div class="t yl" style="left:84.5px;top:399.8px">20</div>
<div class="t yl" style="left:84.5px;top:246.9px">30</div>
<div class="t yl" style="left:84.5px;top:94.0px">40</div>
<div class="t xl" style="left:154.0px;top:1348.5px">-50</div>
<div class="t xl" style="left:726.0px;top:1348.5px">0</div>
<div class="t xl" style="left:1296.0px;top:1348.5px">50</div>
<div class="lg" style="left:1308.5px;top:141.6px">0</div>
<div class="lg" style="left:1308.5px;top:180.0px">1</div>
<div class="lg" style="left:1308.5px;top:218.8px">2</div>
<div class="lg" style="left:1308.5px;top:257.4px">3</div>
<div class="lg" style="left:1308.5px;top:296.0px">4</div>
</body></html>
